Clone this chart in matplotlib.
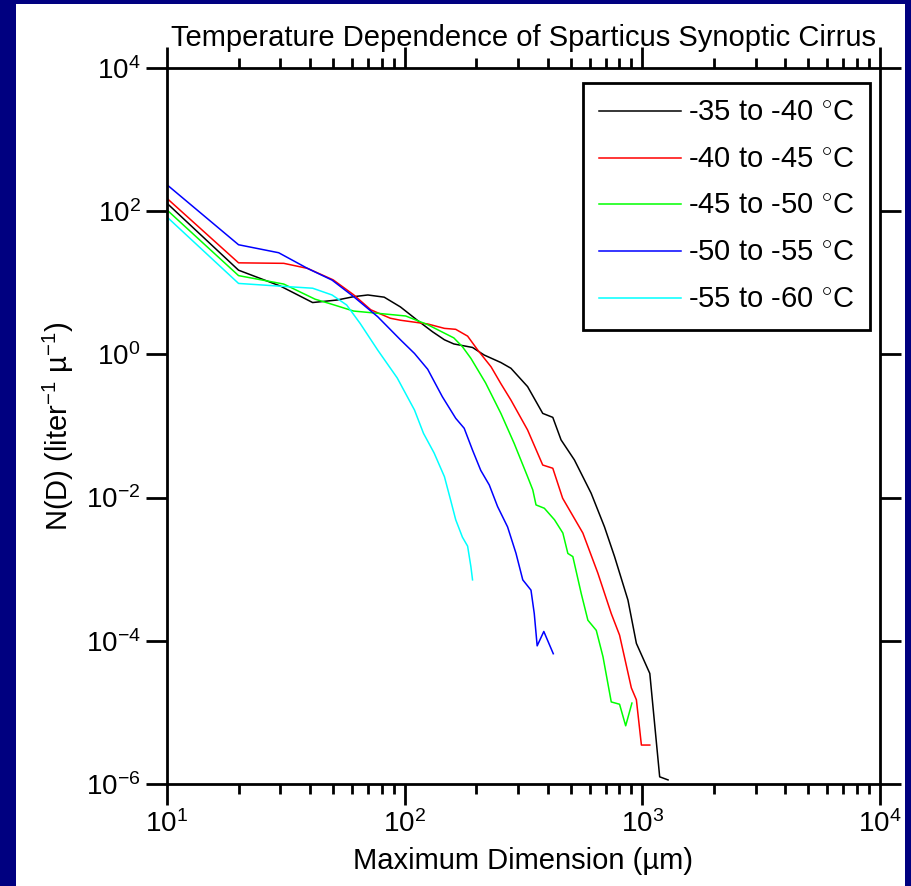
import matplotlib
matplotlib.use("Agg")
import matplotlib.pyplot as plt
from matplotlib.patches import Rectangle

plt.rcParams["font.family"] = ["Liberation Sans", "DejaVu Sans"]
plt.rcParams["mathtext.fontset"] = "custom"
plt.rcParams["mathtext.rm"] = "Liberation Sans"
plt.rcParams["mathtext.it"] = "Liberation Sans:italic"
plt.rcParams["mathtext.bf"] = "Liberation Sans:bold"
plt.rcParams["axes.unicode_minus"] = False

# ----- data (D in um, N(D) in liter^-1 um^-1) -----
labels = [r"-35 to -40 $^{\circ}$C", r"-40 to -45 $^{\circ}$C", r"-45 to -50 $^{\circ}$C",
          r"-50 to -55 $^{\circ}$C", r"-55 to -60 $^{\circ}$C"]
colors = ["#000000", "#ff0000", "#00ff00", "#0000ff", "#00ffff"]

d_35_40 = [10, 20, 30, 41, 52, 61, 70, 82, 96, 113, 131, 147, 161, 193, 216, 254, 280,
           329, 381, 420, 455, 518, 609, 693, 764, 870, 944, 1075, 1183, 1283]
n_35_40 = [129, 15, 9.0, 5.3, 5.75, 6.4, 6.76, 6.3, 4.6, 3.0, 2.07, 1.6, 1.4, 1.25, 0.98,
           0.77, 0.64, 0.355, 0.15, 0.132, 0.064, 0.0335, 0.0115, 0.0039, 0.0015, 3.7e-4,
           9.2e-5, 3.5e-5, 1.26e-6, 1.14e-6]

d_40_45 = [10, 20, 31, 39, 50, 61, 72, 87, 96, 125, 147, 164, 184, 203, 231, 254, 280,
           329, 381, 420, 462, 562, 650, 740, 802, 899, 944, 991, 1075]
n_40_45 = [151, 19, 18.7, 15.9, 11, 6.8, 4.2, 3.2, 3.0, 2.66, 2.31, 2.24, 1.8, 1.15, 0.67,
           0.39, 0.23, 0.088, 0.0285, 0.0257, 0.0098, 0.0032, 8.8e-4, 2.4e-4, 1.2e-4,
           2.2e-5, 1.5e-5, 3.5e-6, 3.5e-6]

d_45_50 = [10, 20, 31, 42, 49, 61, 77, 101, 125, 161, 175, 190, 219, 254, 289, 329, 346,
           357, 387, 427, 463, 486, 510, 553, 590, 640, 683, 740, 802, 851, 904]
n_45_50 = [104, 12.6, 9.6, 5.9, 5.06, 4.03, 3.75, 3.44, 2.6, 1.7, 1.28, 0.88, 0.4, 0.15,
           0.057, 0.0196, 0.0128, 0.0079, 0.0071, 0.0049, 0.0032, 0.00166, 0.0015, 4.6e-4,
           1.94e-4, 1.4e-4, 6.0e-5, 1.4e-5, 1.3e-5, 6.5e-6, 1.35e-5]

d_50_55 = [10, 20, 29.5, 39, 49.5, 61, 77, 96, 110, 125, 144, 164, 178, 193, 209, 227, 246,
           271, 294, 314, 340, 351, 361, 385, 422]
n_50_55 = [234, 34, 26.3, 15.9, 10.9, 6.4, 3.36, 1.6, 1.03, 0.62, 0.257, 0.128, 0.093,
           0.046, 0.024, 0.015, 0.0075, 0.0039, 0.00167, 7.1e-4, 5.1e-4, 2.4e-4, 8.5e-5,
           1.35e-4, 6.6e-5]

d_55_60 = [10, 20, 29.5, 41, 49.5, 57, 65, 77, 93, 110, 120, 133, 147, 156, 164, 175, 184,
           190, 193]
n_55_60 = [83, 9.8, 9.0, 8.4, 6.76, 4.9, 2.7, 1.15, 0.47, 0.167, 0.079, 0.042, 0.0196,
           0.0093, 0.0049, 0.0028, 0.0021, 0.00108, 7.1e-4]

series = [(d_35_40, n_35_40), (d_40_45, n_40_45), (d_45_50, n_45_50),
          (d_50_55, n_50_55), (d_55_60, n_55_60)]

W, H = 912, 886
fig = plt.figure(figsize=(W / 100, H / 100), dpi=100, facecolor="#000080")

# white slide panel behind the chart
fig.add_artist(Rectangle((16 / W, 0), (905 - 16) / W, (H - 4) / H,
                         transform=fig.transFigure, facecolor="white",
                         edgecolor="none", zorder=0))

ax = fig.add_axes([167 / W, (H - 784) / H, (880 - 167) / W, (784 - 68) / H])
ax.set_facecolor("white")

for (d, n), c, lab in zip(series, colors, labels):
    ax.plot(d, n, color=c, lw=1.1, label=lab)

ax.set_xscale("log")
ax.set_yscale("log")
ax.set_xlim(10, 1e4)
ax.set_ylim(1e-6, 1e4)
ax.set_yticks([1e-6, 1e-4, 1e-2, 1e0, 1e2, 1e4])
ax.yaxis.set_minor_locator(matplotlib.ticker.NullLocator())

for s in ax.spines.values():
    s.set_linewidth(2)
ax.tick_params(which="both", direction="out", top=True, right=True, width=2,
               labelsize=20, pad=4)
ax.tick_params(which="major", length=15)
ax.tick_params(which="minor", length=7)

ax.set_title("Temperature Dependence of Sparticus Synoptic Cirrus", fontsize=21, pad=16)
ax.set_xlabel("Maximum Dimension (\u00b5m)", fontsize=21, labelpad=6)
ax.set_ylabel("N(D) (liter$^{-1}$ \u00b5$^{-1}$)", fontsize=21)
ax.yaxis.set_label_coords(-0.128, 0.5)

leg = ax.legend(loc="upper right", bbox_to_anchor=(0.986, 0.979), borderaxespad=0,
                fontsize=21, handlelength=2.8, handletextpad=0.25, labelspacing=0.64,
                fancybox=False, framealpha=1, edgecolor="black", borderpad=0.55)
leg.get_frame().set_linewidth(2)

fig.savefig("out.png", dpi=100, facecolor=fig.get_facecolor())
